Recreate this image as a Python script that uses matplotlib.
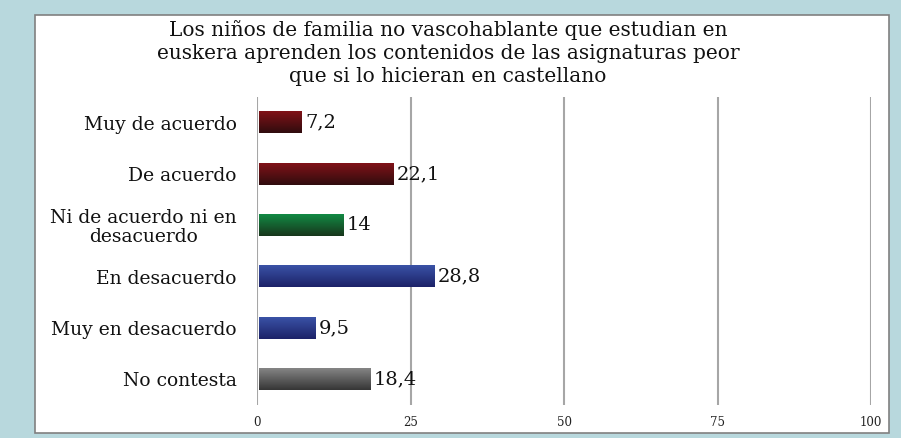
import matplotlib
matplotlib.use("Agg")
import matplotlib.pyplot as plt
import numpy as np
from matplotlib.patches import Rectangle

categories = ["Muy de acuerdo", "De acuerdo", "Ni de acuerdo ni en\ndesacuerdo",
              "En desacuerdo", "Muy en desacuerdo", "No contesta"]
values = [7.2, 22.1, 14, 28.8, 9.5, 18.4]
value_labels = ["7,2", "22,1", "14", "28,8", "9,5", "18,4"]
xticks = [0, 25, 50, 75, 100]
title = ("Los niños de familia no vascohablante que estudian en\n"
         "euskera aprenden los contenidos de las asignaturas peor\n"
         "que si lo hicieran en castellano")

top_colors = ["#801218", "#801218", "#128a44", "#3a52a6", "#3a52a6", "#858585"]
bot_colors = ["#300c0e", "#300c0e", "#18361c", "#1c2268", "#1c2268", "#363636"]

FONT = "DejaVu Serif"
W, H = 901, 438
fig = plt.figure(figsize=(W / 100, H / 100), dpi=100)
fig.patch.set_facecolor("#b8d8dd")
fig.patches.append(Rectangle((35 / W, 1 - 433 / H), (889 - 35) / W, (433 - 15) / H,
                             transform=fig.transFigure, facecolor="white",
                             edgecolor="#808080", linewidth=1.2, zorder=-5))

ax = fig.add_axes([257 / W, 1 - 405 / H, (871 - 257) / W, (405 - 97) / H])
ax.set_facecolor("none")
ax.set_zorder(2)
for s in ax.spines.values():
    s.set_visible(False)
ax.set_xticks(xticks)
ax.set_xticklabels([str(t) for t in xticks], fontsize=8.5, family=FONT, color="#222222")
ax.tick_params(axis="x", length=0, pad=8)
ax.tick_params(axis="y", length=0, pad=14.5)
ax.set_yticks(range(len(categories)))
ax.set_yticklabels(categories, fontsize=13.5, family=FONT, color="#111111")
for lbl in ax.get_yticklabels():
    lbl.set_multialignment("center")
    lbl.set_linespacing(1.05)
ax.xaxis.grid(True, color="#a6a6a6", linewidth=1.5)
ax.set_axisbelow(True)

h = 0.41
grad = np.linspace(0, 1, 64).reshape(-1, 1)
for i, (v, tc, bc, lab) in enumerate(zip(values, top_colors, bot_colors, value_labels)):
    t = np.array(matplotlib.colors.to_rgb(tc))
    b = np.array(matplotlib.colors.to_rgb(bc))
    img = t[None, None, :] * (1 - grad[:, :, None]) + b[None, None, :] * grad[:, :, None]
    ax.imshow(img, extent=(0.25, v, i + h / 2, i - h / 2), aspect="auto",
              origin="upper", zorder=3, interpolation="bilinear")
    ax.text(v + 0.6, i, lab, va="center", ha="left", fontsize=14,
            family=FONT, color="#111111", zorder=4)
ax.set_xlim(0, 100)
ax.set_ylim(len(categories) - 0.5, -0.5)

fig.text(448 / W, 1 - 53 / H, title, ha="center", va="center", fontsize=14.5,
         family=FONT, linespacing=1.3, color="#111111")

fig.savefig("out.png", dpi=100, facecolor=fig.get_facecolor())
